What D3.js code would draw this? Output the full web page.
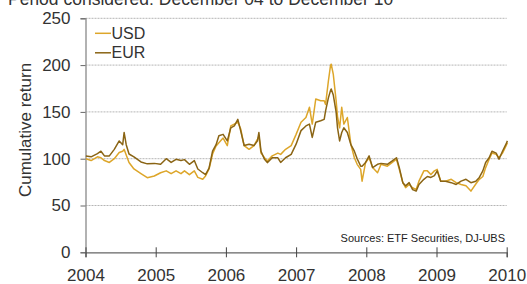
<!DOCTYPE html>
<html><head><meta charset="utf-8">
<script src="https://cdn.jsdelivr.net/npm/d3@7"></script>
<style>
html,body{margin:0;padding:0;background:#fff;}
svg{display:block;font-family:"Liberation Sans",Arial,sans-serif;}
</style></head>
<body><svg id="c" width="527" height="284"></svg>
<script>
const title = "Period considered: December 04 to December 10";
const yLabel = "Cumulative return";
const source = "Sources: ETF Securities, DJ-UBS";
const seriesNames = ["USD", "EUR"];
const yTicks = [0, 50, 100, 150, 200, 250];
const xTicks = [2004, 2005, 2006, 2007, 2008, 2009, 2010];
const times = [2004.005,2004.08,2004.17,2004.22,2004.27,2004.34,2004.41,2004.48,2004.53,2004.55,2004.58,2004.62,2004.69,2004.79,2004.88,2004.98,
2005.07,2005.15,2005.22,2005.29,2005.36,2005.41,2005.48,2005.55,2005.60,2005.67,2005.71,2005.76,2005.81,2005.86,2005.90,2005.96,
2006.02,2006.07,2006.12,2006.17,2006.21,2006.26,2006.33,2006.40,2006.45,2006.47,2006.50,2006.55,2006.59,2006.66,2006.74,2006.78,2006.85,2006.93,
2007.00,2007.07,2007.14,2007.19,2007.23,2007.28,2007.35,2007.40,2007.42,2007.46,2007.49,2007.50,2007.53,2007.57,2007.59,2007.62,2007.65,2007.68,2007.73,2007.78,2007.83,2007.87,2007.92,2007.94,2007.99,
2008.04,2008.09,2008.16,2008.21,2008.30,2008.37,2008.43,2008.47,2008.52,2008.56,2008.61,2008.66,2008.71,2008.75,2008.82,2008.87,2008.92,2008.97,
2009.01,2009.06,2009.13,2009.21,2009.28,2009.35,2009.42,2009.49,2009.56,2009.61,2009.66,2009.70,2009.75,2009.79,2009.85,2009.89,2009.94,2009.99,2010.01];
const usd = [100,98,102,101,98,96,100,106.6,108,110,104,96,89,84,79.7,81.5,
85,87,84,87,84,87,83,87,80,78,81.5,89,105,113.5,117,122,
114,135,137,139,132,114,110,114,121,124,106,101,97.6,103,106,104.6,110,114,
126,139,144,155,137,163.8,162,162,158,183,199.5,201,190,162,145,133,155,137,144,115.5,101,94,88.6,76,96,
101,90.5,85,94,92,96,99.4,88.6,74.4,69,72.5,69,67,76,87,87,83,87,
88.6,76,76,78,74.4,72.5,71,65.4,73,78,81,90.5,99.4,106,104.6,101,106,113.7,117];
const eur = [103,102,105.5,108,103,103,110,119,115,128,115,105,102,96.5,94.5,95,
94,100,96,99.4,98,99,94,98,89,85,83,90,108,115,124.5,126,
119,133,135,142,130,114,115.5,114,119,128,108,99.4,95.8,101,101,96,101,104.6,
115.5,130,135,137,122.7,139,140.5,142,151,165,172.7,174.5,168,150,133,119,128,133,128,115,108,100,92,92,96,
103,90.5,94,95,94,97.6,101,90.5,74.4,71,74.4,67,65.4,72.5,78,81,80,82,
87,76,76,74.4,72.5,76,78,74.4,76,80,87,96,101,108,106,99.4,108,115.5,119];
const colors = ["#DDA62A", "#8A6414"];

const svg = d3.select("#c");
const x = d3.scaleLinear().domain([2004, 2010]).range([85.5, 506.7]);
const y = d3.scaleLinear().domain([0, 250]).range([252.3, 18.3]);
const textCol = "#333";
const ff = "'Liberation Sans', Arial, sans-serif";

// title (partially cut off at the top, as in the reference)
svg.append("text").attr("x", 8).attr("y", 4.5).attr("font-size", 17.5).attr("fill", textCol).text(title);

// gridlines
svg.append("g").selectAll("line").data(yTicks.filter(d => d > 0)).join("line")
  .attr("x1", x.range()[0]).attr("x2", x.range()[1])
  .attr("y1", d => y(d)).attr("y2", d => y(d))
  .attr("stroke", "#b5b5b5").attr("stroke-width", 1).attr("stroke-dasharray", "2,1");

// y axis
const ya = svg.append("g").attr("transform", `translate(${x.range()[0]},0)`)
  .call(d3.axisLeft(y).tickValues(yTicks).tickSize(5).tickPadding(10));
ya.attr("font-family", ff);
ya.select(".domain").attr("stroke", "#999").attr("stroke-width", 1.5);
ya.selectAll(".tick line").attr("stroke", "#666");
ya.selectAll("text").attr("font-size", 17).attr("fill", textCol);

// x axis
const xa = svg.append("g").attr("transform", `translate(0,${y(0)})`)
  .call(d3.axisBottom(x).tickValues(xTicks).tickFormat(d3.format("d")).tickSize(5).tickPadding(12));
xa.attr("font-family", ff);
xa.select(".domain").attr("stroke", "#666").attr("stroke-width", 1.2);
xa.selectAll(".tick line").attr("stroke", "#444").attr("y1", -5).attr("y2", 5);
xa.selectAll("text").attr("font-size", 17).attr("fill", textCol);

// y label
svg.append("text").attr("transform", "translate(31,130) rotate(-90)")
  .attr("text-anchor", "middle").attr("font-size", 17).attr("fill", textCol).text(yLabel);

// lines
const data = [usd, eur];
const line = d3.line().x((d, i) => x(times[i])).y(d => y(d));
data.forEach((s, k) => {
  svg.append("path").datum(s).attr("d", line).attr("fill", "none")
    .attr("stroke", colors[k]).attr("stroke-width", 1.5).attr("stroke-linejoin", "round");
});

// legend
seriesNames.forEach((n, k) => {
  const yy = 33.3 + k * 19.5;
  svg.append("line").attr("x1", 95).attr("x2", 111).attr("y1", yy).attr("y2", yy)
    .attr("stroke", colors[k]).attr("stroke-width", 1.5);
  svg.append("text").attr("x", 111.5).attr("y", yy + 5.5).attr("font-size", 16).attr("fill", textCol).text(n);
});

// source
svg.append("text").attr("x", 505).attr("y", 242).attr("text-anchor", "end")
  .attr("font-size", 11).attr("fill", "#222").text(source);
</script></body></html>
